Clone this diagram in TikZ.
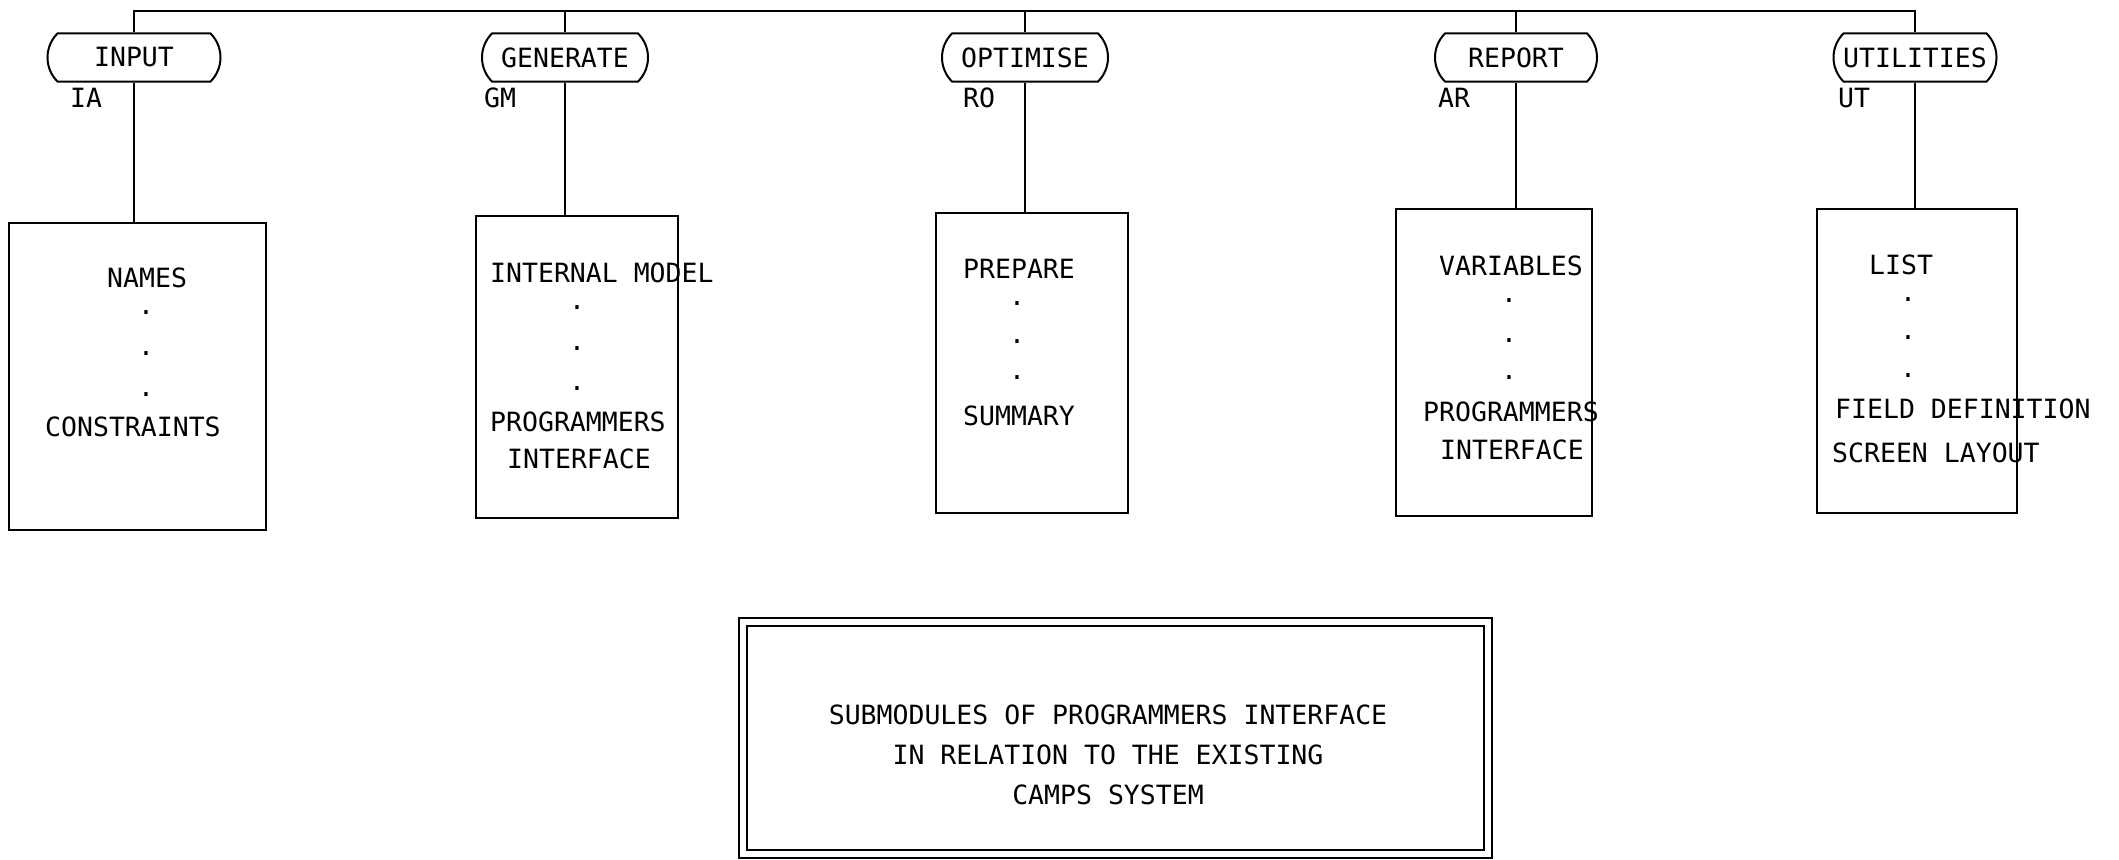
\documentclass[tikz,border=0pt]{standalone}
\usepackage{fontspec}
\newfontfamily\codefont{DejaVu Sans Mono}
\usepackage{tikz}
\usetikzlibrary{shapes.misc,positioning}
\tikzset{
myHeader/.style={
	rounded rectangle, rounded rectangle arc length=90,
	draw, line width=2pt, minimum width=166pt, minimum height=48pt,
	inner sep=0pt, font=\codefont\fontsize{26.5}{40}\selectfont
}
, myBox/.style={
	rectangle, draw, line width=2pt, inner sep=0pt
}
, myText/.style={
	inner sep=0pt, font=\codefont\fontsize{26.5}{40}\selectfont
}
, myLeft/.style={myText, anchor=west}
, myDot/.style={myText}
% frame round the caption
, myFrame/.style={
	draw, line width=2pt, double, double distance=6pt, inner sep=0pt
}
% link
, myLink/.style={line width=2pt}
}
\begin{document}
\begin{tikzpicture}[x=1pt,y=-1pt]
	\useasboundingbox (0,0) rectangle (2119,859);
	\coordinate (bus) at (0,11);
	% headers
	\node[myHeader, minimum width=173pt] (hInput) at (134,57.5) {INPUT};
	\node[myHeader] (hGen) at (565,57.5) {GENERATE};
	\node[myHeader] (hOpt) at (1025,57.5) {OPTIMISE};
	\node[myHeader, minimum width=162pt] (hRep) at (1516,57.5) {REPORT};
	\node[myHeader, minimum width=163pt] (hUtil) at (1915,57.5) {UTILITIES};
	% codes
	\node[myLeft] (ia) at (70,98) {IA};
	\node[myLeft] (gm) at (484,98) {GM};
	\node[myLeft] (ro) at (963,98) {RO};
	\node[myLeft] (ar) at (1438,98) {AR};
	\node[myLeft] (ut) at (1838,98) {UT};
	% boxes
	\node[myBox, minimum width=257pt, minimum height=307pt] (bInput) at (137.5,376.5) {};
	\node[myBox, minimum width=202pt, minimum height=302pt] (bGen) at (577,367) {};
	\node[myBox, minimum width=192pt, minimum height=300pt] (bOpt) at (1032,363) {};
	\node[myBox, minimum width=196pt, minimum height=307pt] (bRep) at (1494,362.5) {};
	\node[myBox, minimum width=200pt, minimum height=304pt] (bUtil) at (1917,361) {};
	% box texts
	\node[myLeft] (names) at (107,278) {NAMES};
	\node[myDot] (dA1) at (146,313) {.};
	\node[myDot] (dA2) at (146,354) {.};
	\node[myDot] (dA3) at (146,395) {.};
	\node[myLeft] (constraints) at (45,427) {CONSTRAINTS};

	\node[myLeft] (model) at (490,273) {INTERNAL MODEL};
	\node[myDot] (dB1) at (577,308) {.};
	\node[myDot] (dB2) at (577,349) {.};
	\node[myDot] (dB3) at (577,389) {.};
	\node[myLeft] (progB) at (490,422) {PROGRAMMERS};
	\node[myLeft] (intfB) at (507,459) {INTERFACE};

	\node[myLeft] (prepare) at (963,269) {PREPARE};
	\node[myDot] (dC1) at (1017,304) {.};
	\node[myDot] (dC2) at (1017,342) {.};
	\node[myDot] (dC3) at (1017,378) {.};
	\node[myLeft] (summary) at (963,416) {SUMMARY};

	\node[myLeft] (variables) at (1439,266) {VARIABLES};
	\node[myDot] (dD1) at (1509,301) {.};
	\node[myDot] (dD2) at (1509,341) {.};
	\node[myDot] (dD3) at (1509,378) {.};
	\node[myLeft] (progD) at (1423,412) {PROGRAMMERS};
	\node[myLeft] (intfD) at (1440,450) {INTERFACE};

	\node[myLeft] (list) at (1869,265) {LIST};
	\node[myDot] (dE1) at (1908,300) {.};
	\node[myDot] (dE2) at (1908,338) {.};
	\node[myDot] (dE3) at (1908,376) {.};
	\node[myLeft] (field) at (1835,409) {FIELD DEFINITION};
	\node[myLeft] (screen) at (1832,453) {SCREEN LAYOUT};
	% caption
	\node[myFrame, minimum width=745pt, minimum height=232pt] (frame) at (1115.5,738) {};
	\node[myText, align=center] (caption) at (1108,755)
		{SUBMODULES OF PROGRAMMERS INTERFACE\\IN RELATION TO THE EXISTING\\CAMPS SYSTEM};

	% links
	\draw [myLink] (hInput.north) |- (hUtil.north |- bus) -- (hUtil.north);
	\draw [myLink] (hGen.north) -- (hGen.north |- bus);
	\draw [myLink] (hOpt.north) -- (hOpt.north |- bus);
	\draw [myLink] (hRep.north) -- (hRep.north |- bus);

	\draw [myLink] (hInput.south) -- (hInput.south |- bInput.north);
	\draw [myLink] (hGen.south) -- (hGen.south |- bGen.north);
	\draw [myLink] (hOpt.south) -- (hOpt.south |- bOpt.north);
	\draw [myLink] (hRep.south) -- (hRep.south |- bRep.north);
	\draw [myLink] (hUtil.south) -- (hUtil.south |- bUtil.north);
\end{tikzpicture}
\end{document}
